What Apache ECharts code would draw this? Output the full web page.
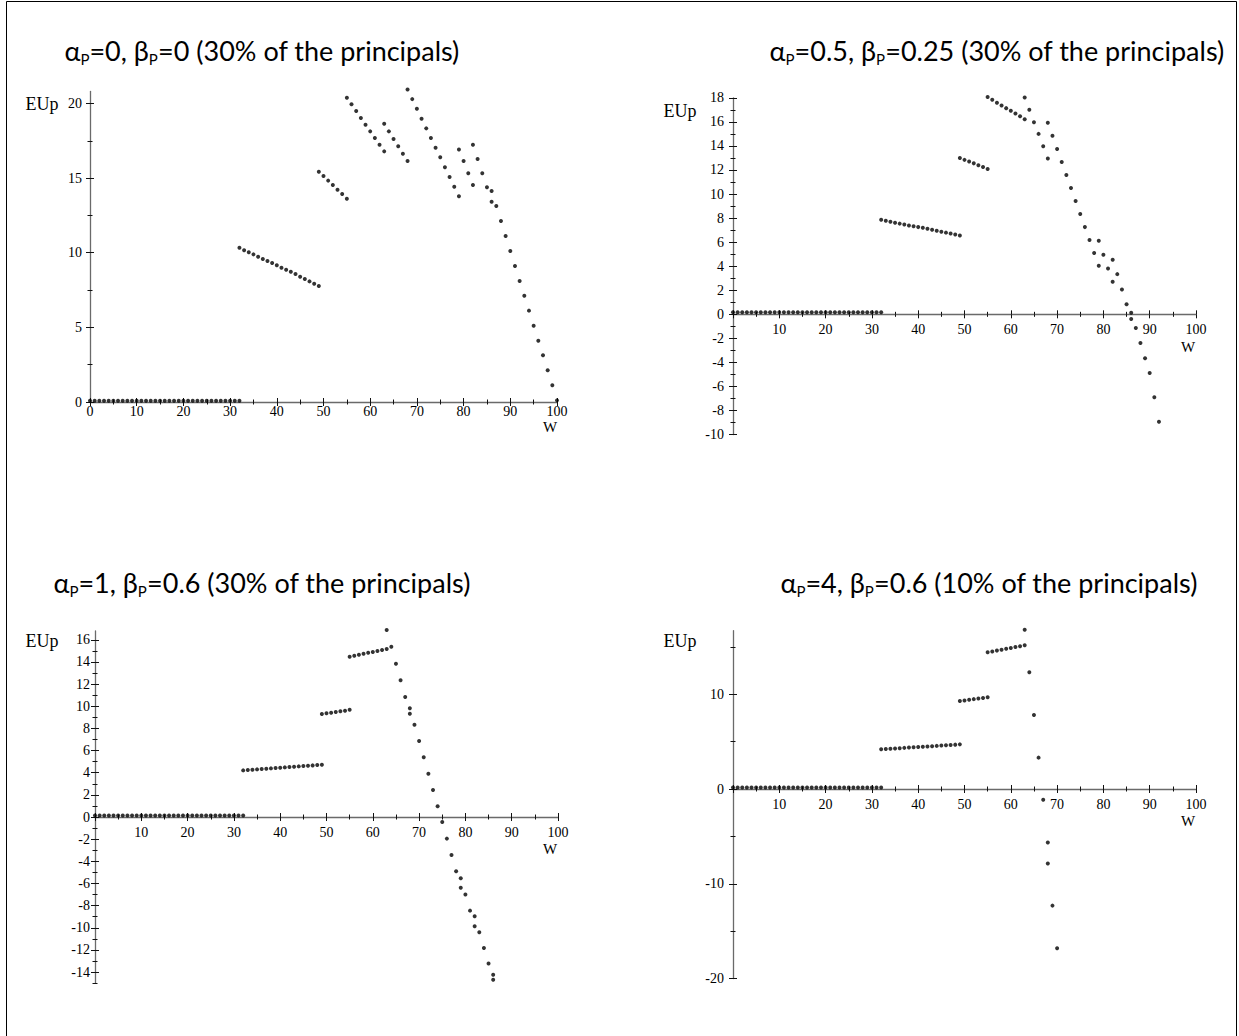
<!DOCTYPE html>
<html><head><meta charset="utf-8">
<script src="https://cdn.jsdelivr.net/npm/echarts@6/dist/echarts.min.js"></script>
<style>html,body{margin:0;padding:0;background:#fff}#c{width:1239px;height:1036px}</style>
</head><body><div id="c"></div>
<script>
// ================= DATA =================
const xMajorTicks = [0,10,20,30,40,50,60,70,80,90,100];
const xMajorLabelsNoZero = [10,20,30,40,50,60,70,80,90,100];
const xMinorTicks = [5,15,25,35,45,55,65,75,85,95];

// Panel 1: alphaP=0, betaP=0
const p1Title = '{a|α}{s|P}{a|=0, β}{s|P}{a|=0 (30% of the principals)}';
const p1W = [0,1,2,3,4,5,6,7,8,9,10,11,12,13,14,15,16,17,18,19,20,21,22,23,24,25,26,27,28,29,30,31,32,
  32,33,34,35,36,37,38,39,40,41,42,43,44,45,46,47,48,49,
  49,50,51,52,53,54,55,
  55,56,57,58,59,60,61,62,63,
  63,64,65,66,67,68,
  68,69,70,71,72,73,74,75,76,77,78,79,
  79,80,81,82,
  82,83,84,85,86,
  86,87,88,89,90,91,92,93,94,95,96,97,98,99,100];
const p1EUp = [0.08,0.08,0.08,0.08,0.08,0.08,0.08,0.08,0.08,0.08,0.08,0.08,0.08,0.08,0.08,0.08,0.08,0.08,0.08,0.08,0.08,0.08,0.08,0.08,0.08,0.08,0.08,0.08,0.08,0.08,0.08,0.08,0.08,
  10.33,10.16,10.03,9.89,9.73,9.58,9.44,9.31,9.16,9.00,8.86,8.73,8.57,8.39,8.24,8.08,7.92,7.77,
  15.42,15.14,14.83,14.53,14.22,13.93,13.62,
  20.38,19.94,19.49,19.02,18.57,18.13,17.68,17.23,16.79,
  18.64,18.13,17.62,17.13,16.63,16.14,
  20.94,20.29,19.65,18.98,18.33,17.68,17.03,16.39,15.72,15.07,14.42,13.78,
  16.92,16.14,15.32,14.53,
  17.23,16.28,15.32,14.38,13.42,
  14.13,13.13,12.12,11.12,10.11,9.11,8.10,7.12,6.12,5.11,4.11,3.13,2.12,1.12,0.11];
const p1YMajor = [0,5,10,15,20];
const p1YMinor = [2.5,7.5,12.5,17.5];

// Panel 2: alphaP=0.5, betaP=0.25
const p2Title = '{a|α}{s|P}{a|=0.5, β}{s|P}{a|=0.25 (30% of the principals)}';
const p2W = [0,1,2,3,4,5,6,7,8,9,10,11,12,13,14,15,16,17,18,19,20,21,22,23,24,25,26,27,28,29,30,31,32,
  32,33,34,35,36,37,38,39,40,41,42,43,44,45,46,47,48,49,
  49,50,51,52,53,54,55,
  55,56,57,58,59,60,61,62,63,
  63,64,65,66,67,68,
  68,69,70,71,72,73,74,75,76,77,78,79,
  79,80,81,82,
  82,83,84,85,86,
  86,87,88,89,90,91,92];
const p2EUp = [0.17,0.17,0.17,0.17,0.17,0.17,0.17,0.17,0.17,0.17,0.17,0.17,0.17,0.17,0.17,0.17,0.17,0.17,0.17,0.17,0.17,0.17,0.17,0.17,0.17,0.17,0.17,0.17,0.17,0.17,0.17,0.17,0.17,
  7.86,7.77,7.69,7.61,7.54,7.47,7.39,7.32,7.25,7.19,7.11,7.03,6.95,6.87,6.79,6.71,6.63,6.56,
  12.99,12.84,12.70,12.55,12.40,12.24,12.08,
  18.06,17.83,17.58,17.36,17.14,16.92,16.70,16.47,16.22,
  18.03,17.00,15.97,15.00,13.97,12.95,
  15.92,14.84,13.75,12.67,11.59,10.50,9.42,8.34,7.25,6.17,5.09,4.03,
  6.11,4.95,3.81,2.70,
  4.53,3.34,2.06,0.84,-0.39,
  0.13,-1.14,-2.39,-3.66,-4.88,-6.90,-8.93];
const p2YMajor = [-10,-8,-6,-4,-2,0,2,4,6,8,10,12,14,16,18];
const p2YMinor = [-9,-7,-5,-3,-1,1,3,5,7,9,11,13,15,17];

// Panel 3: alphaP=1, betaP=0.6
const p3Title = '{a|α}{s|P}{a|=1, β}{s|P}{a|=0.6 (30% of the principals)}';
const p3W = [0,1,2,3,4,5,6,7,8,9,10,11,12,13,14,15,16,17,18,19,20,21,22,23,24,25,26,27,28,29,30,31,32,
  32,33,34,35,36,37,38,39,40,41,42,43,44,45,46,47,48,49,
  49,50,51,52,53,54,55,
  55,56,57,58,59,60,61,62,63,64,
  63,
  65,66,67,68,68,69,70,71,72,73,74,75,76,77,78,79,79,80,81,82,82,83,84,85,86,86];
const p3EUp = [0.13,0.13,0.13,0.13,0.13,0.13,0.13,0.13,0.13,0.13,0.13,0.13,0.13,0.13,0.13,0.13,0.13,0.13,0.13,0.13,0.13,0.13,0.13,0.13,0.13,0.13,0.13,0.13,0.13,0.13,0.13,0.13,0.13,
  4.21,4.24,4.27,4.30,4.33,4.36,4.39,4.42,4.45,4.48,4.51,4.54,4.57,4.60,4.63,4.66,4.69,4.72,
  9.30,9.36,9.42,9.48,9.54,9.60,9.69,
  14.47,14.56,14.65,14.74,14.83,14.89,14.98,15.07,15.16,15.37,
  16.88,
  13.84,12.34,10.83,9.81,9.33,8.33,6.86,5.39,3.91,2.44,0.97,-0.45,-1.95,-3.43,-4.90,-5.53,-6.38,-7.00,-8.45,-8.96,-9.86,-10.40,-11.82,-13.23,-14.23,-14.68];
const p3YMajor = [-14,-12,-10,-8,-6,-4,-2,0,2,4,6,8,10,12,14,16];
const p3YMinor = [-15,-13,-11,-9,-7,-5,-3,-1,1,3,5,7,9,11,13,15];

// Panel 4: alphaP=4, betaP=0.6
const p4Title = '{a|α}{s|P}{a|=4, β}{s|P}{a|=0.6 (10% of the principals)}';
const p4W = [0,1,2,3,4,5,6,7,8,9,10,11,12,13,14,15,16,17,18,19,20,21,22,23,24,25,26,27,28,29,30,31,32,
  32,33,34,35,36,37,38,39,40,41,42,43,44,45,46,47,48,49,
  49,50,51,52,53,54,55,
  55,56,57,58,59,60,61,62,63,
  63,64,65,66,67,68,68,69,70];
const p4EUp = [0.15,0.15,0.15,0.15,0.15,0.15,0.15,0.15,0.15,0.15,0.15,0.15,0.15,0.15,0.15,0.15,0.15,0.15,0.15,0.15,0.15,0.15,0.15,0.15,0.15,0.15,0.15,0.15,0.15,0.15,0.15,0.15,0.15,
  4.19,4.22,4.25,4.28,4.31,4.34,4.37,4.40,4.43,4.46,4.49,4.52,4.55,4.58,4.61,4.64,4.68,4.71,
  9.28,9.34,9.41,9.48,9.54,9.60,9.67,
  14.42,14.51,14.60,14.70,14.79,14.88,14.97,15.06,15.16,
  16.81,12.31,7.81,3.31,-1.13,-5.64,-7.85,-12.30,-16.80];
const p4YMajor = [-20,-10,0,10];
const p4YMinor = [-15,-5,5,15];

// ================= LAYOUT =================
const panels = [
  {title:p1Title, w:p1W, e:p1EUp, yMajor:p1YMajor, yMinor:p1YMinor, xLabels:xMajorTicks,
   left:90, top:91.5, width:467, height:310.5, yMin:0, yMax:20.8, xLabelMargin:2, yLabelMargin:8,
   titlePos:[262,50], eupPos:[42,104], wPos:[550,427]},
  {title:p2Title, w:p2W, e:p2EUp, yMajor:p2YMajor, yMinor:p2YMinor, xLabels:xMajorLabelsNoZero,
   left:733, top:97.8, width:463, height:336.8, yMin:-10, yMax:18, xLabelMargin:8, yLabelMargin:9,
   titlePos:[997,50], eupPos:[680,111], wPos:[1188,347]},
  {title:p3Title, w:p3W, e:p3EUp, yMajor:p3YMajor, yMinor:p3YMinor, xLabels:xMajorLabelsNoZero,
   left:95, top:630.9, width:463, height:352.3, yMin:-15, yMax:16.8, xLabelMargin:8, yLabelMargin:5,
   titlePos:[262,582], eupPos:[42,641], wPos:[550,849]},
  {title:p4Title, w:p4W, e:p4EUp, yMajor:p4YMajor, yMinor:p4YMinor, xLabels:xMajorLabelsNoZero,
   left:733, top:630.7, width:463, height:347.9, yMin:-20, yMax:16.7, xLabelMargin:8, yLabelMargin:9,
   titlePos:[989,582], eupPos:[680,641], wPos:[1188,821]}
];

const serif = 'Liberation Serif';
const labelStyle = {fontFamily:serif, fontSize:14, color:'#000'};
const grids = [], xAxes = [], yAxes = [], series = [], graphics = [];

panels.forEach((p, i) => {
  grids.push({left:p.left, top:p.top, width:p.width, height:p.height, containLabel:false});
  const base = i * 4;
  // the x axis sits on EUp = 0: shift it up from the grid bottom by the pixel distance of 0 above yMin
  const zeroOffset = -p.height * (0 - p.yMin) / (p.yMax - p.yMin);
  const xDefs = [
    {line:true, labels:true, ticks:xMajorTicks, inside:false, len:4},
    {line:false, labels:false, ticks:xMajorTicks, inside:true, len:4},
    {line:false, labels:false, ticks:xMinorTicks, inside:false, len:2.5},
    {line:false, labels:false, ticks:xMinorTicks, inside:true, len:2.5}
  ];
  xDefs.forEach((d) => {
    xAxes.push({
      type:'value', gridIndex:i, min:0, max:100, position:'bottom', offset:zeroOffset,
      splitLine:{show:false},
      axisLine:{show:d.line, onZero:false, lineStyle:{color:'#6a6a6a', width:1.3}},
      axisTick:{show:true, inside:d.inside, length:d.len, customValues:d.ticks, lineStyle:{color:'#111', width:1}},
      axisLabel:{show:d.labels, customValues:p.xLabels, margin:p.xLabelMargin, ...labelStyle},
      minorTick:{show:false}
    });
  });
  const yDefs = [
    {line:true, labels:true, ticks:p.yMajor, inside:false, len:4},
    {line:false, labels:false, ticks:p.yMajor, inside:true, len:4},
    {line:false, labels:false, ticks:p.yMinor, inside:false, len:2.5},
    {line:false, labels:false, ticks:p.yMinor, inside:true, len:2.5}
  ];
  yDefs.forEach((d) => {
    yAxes.push({
      type:'value', gridIndex:i, min:p.yMin, max:p.yMax, position:'left', offset:0,
      splitLine:{show:false},
      axisLine:{show:d.line, onZero:false, lineStyle:{color:'#6a6a6a', width:1.3}},
      axisTick:{show:true, inside:d.inside, length:d.len, customValues:d.ticks, lineStyle:{color:'#111', width:1}},
      axisLabel:{show:d.labels, customValues:p.yMajor, margin:p.yLabelMargin, ...labelStyle},
      minorTick:{show:false}
    });
  });
  series.push({
    type:'scatter', xAxisIndex:base, yAxisIndex:base,
    data:p.w.map((w, k) => [w, p.e[k]]),
    symbol:'circle', symbolSize:4, itemStyle:{color:'#000'},
    clip:false, silent:true, z:5
  });
  graphics.push({
    type:'text', x:p.titlePos[0], y:p.titlePos[1], silent:true,
    style:{text:p.title, align:'center', verticalAlign:'middle',
      rich:{
        a:{fontFamily:'Lato', fontSize:27, fill:'#000', lineHeight:32},
        s:{fontFamily:'Lato', fontSize:15, fill:'#000', lineHeight:16, verticalAlign:'bottom'}
      }}
  });
  graphics.push({
    type:'text', x:p.eupPos[0], y:p.eupPos[1], silent:true,
    style:{text:'EUp', align:'center', verticalAlign:'middle', fontFamily:serif, fontSize:18, fill:'#000'}
  });
  graphics.push({
    type:'text', x:p.wPos[0], y:p.wPos[1], silent:true,
    style:{text:'W', align:'center', verticalAlign:'middle', fontFamily:serif, fontSize:15, fill:'#000'}
  });
});

// figure frame
graphics.push({
  type:'polyline', silent:true,
  shape:{points:[[6.5,1036],[6.5,1.5],[1236.5,1.5],[1236.5,1036]]},
  style:{stroke:'#000', lineWidth:1, fill:null}
});

const chart = echarts.init(document.getElementById('c'), null, {renderer:'svg', width:1239, height:1036});
chart.setOption({
  animation:false,
  backgroundColor:'#fff',
  grid:grids, xAxis:xAxes, yAxis:yAxes, series:series, graphic:graphics
});
</script>
</body></html>
